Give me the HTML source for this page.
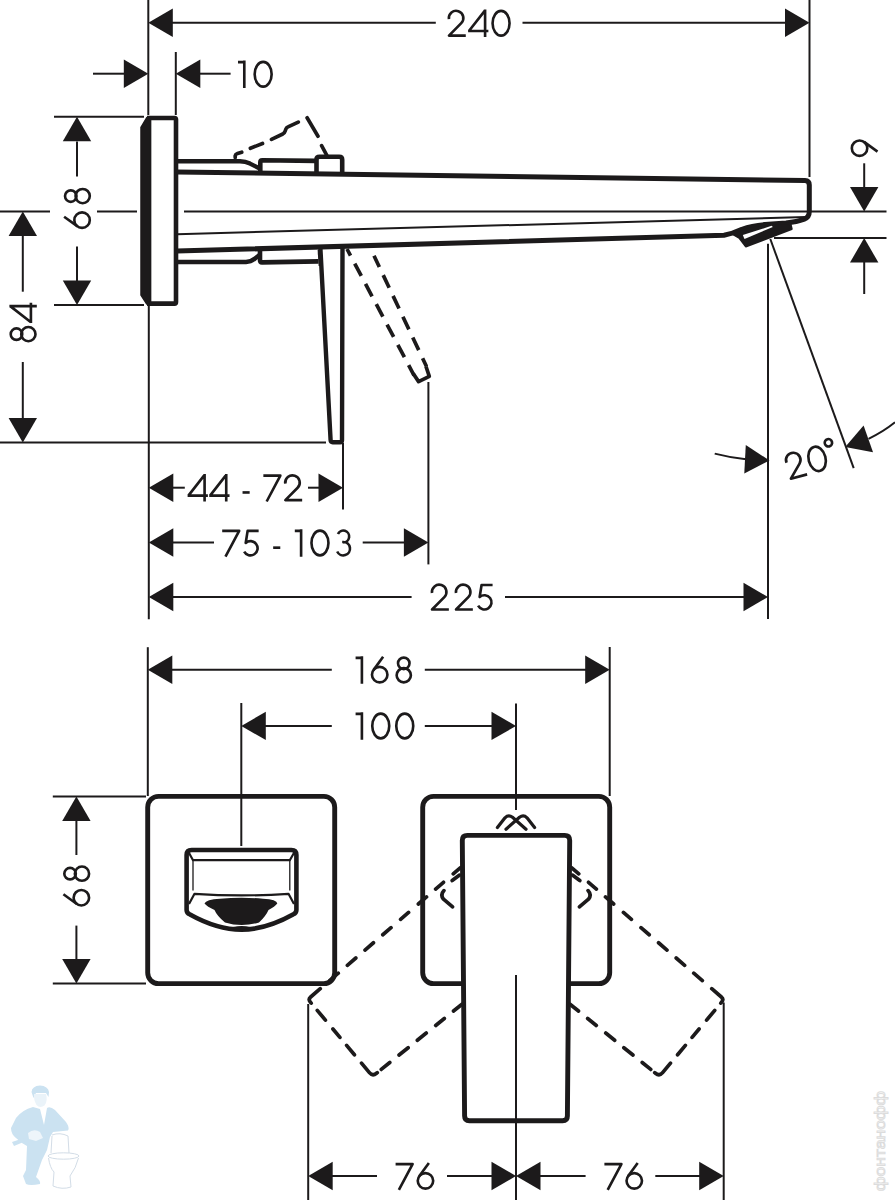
<!DOCTYPE html>
<html><head><meta charset="utf-8"><title>Dimension drawing</title>
<style>
html,body{margin:0;padding:0;background:#fff;font-family:"Liberation Sans",sans-serif;}
svg{display:block;}
</style></head>
<body>
<svg width="895" height="1200" viewBox="0 0 895 1200">
<rect width="895" height="1200" fill="#fff"/>
<path d="M148.3,0L148.3,115" stroke="#1c1a1b" stroke-width="2.0" fill="none"/>
<path d="M175.8,52L175.8,115" stroke="#1c1a1b" stroke-width="2.0" fill="none"/>
<path d="M809.5,0L809.5,177" stroke="#1c1a1b" stroke-width="2.0" fill="none"/>
<path d="M172,22.8L435.8,22.8" stroke="#1c1a1b" stroke-width="2.0" fill="none"/>
<path d="M522.5,22.8L786,22.8" stroke="#1c1a1b" stroke-width="2.0" fill="none"/>
<path d="M148.30,22.80L172.80,8.60L172.80,37.00z" fill="#1c1a1b"/>
<path d="M809.50,22.80L785.00,37.00L785.00,8.60z" fill="#1c1a1b"/>
<g transform="translate(479.20,23.20) rotate(0) scale(0.2740) translate(-115.60,-50)" fill="none" stroke="#1c1a1b" stroke-width="9.6" stroke-linejoin="round">
<path transform="translate(0.00,0)" d="M5.06,34.99A26.5,26.5 0 1 1 50.13,49.95L5.30,95.20L66.60,95.20"/>
<path transform="translate(75.10,0)" d="M62,0L62,100M62,3L3,78.5M0,78.5L74,78.5"/>
<path transform="translate(159.60,0)" d="M4.80,50.00a31,45.2 0 1 0 62,0a31,45.2 0 1 0 -62,0z"/>
</g>
<path d="M93,73.7L125,73.7" stroke="#1c1a1b" stroke-width="2.0" fill="none"/>
<path d="M199.5,73.7L230.6,73.7" stroke="#1c1a1b" stroke-width="2.0" fill="none"/>
<path d="M148.30,73.70L123.80,87.90L123.80,59.50z" fill="#1c1a1b"/>
<path d="M175.80,73.70L200.30,59.50L200.30,87.90z" fill="#1c1a1b"/>
<g transform="translate(255.48,74.20) rotate(0) scale(0.2740) translate(-63.80,-50)" fill="none" stroke="#1c1a1b" stroke-width="9.6" stroke-linejoin="round">
<path transform="translate(0.00,0)" d="M0,5.80 L23,5.80 M23,0 L23,100"/>
<path transform="translate(56.00,0)" d="M4.80,50.00a31,45.2 0 1 0 62,0a31,45.2 0 1 0 -62,0z"/>
</g>
<path d="M54,116.8L144,116.8" stroke="#1c1a1b" stroke-width="2.0" fill="none"/>
<path d="M54,305L144,305" stroke="#1c1a1b" stroke-width="2.0" fill="none"/>
<path d="M77,141.6L77,176.4" stroke="#1c1a1b" stroke-width="2.0" fill="none"/>
<path d="M77,246.5L77,281.4" stroke="#1c1a1b" stroke-width="2.0" fill="none"/>
<path d="M77.00,116.80L91.20,141.30L62.80,141.30z" fill="#1c1a1b"/>
<path d="M77.00,305.00L62.80,280.50L91.20,280.50z" fill="#1c1a1b"/>
<g transform="translate(77.40,208.40) rotate(-90) scale(0.2740) translate(-75.80,-50)" fill="none" stroke="#1c1a1b" stroke-width="9.6" stroke-linejoin="round">
<path transform="translate(0.00,0)" d="M4.80,67.00a28.2,28.2 0 1 0 56.4,0a28.2,28.2 0 1 0 -56.4,0z"/>
<path transform="translate(0.00,0)" d="M45.50,1.50L10.13,50.50"/>
<path transform="translate(90.00,0)" d="M9.80,25.80a21.0,21.0 0 1 0 42.0,0a21.0,21.0 0 1 0 -42.0,0z"/>
<path transform="translate(90.00,0)" d="M4.80,69.20a26.0,26.0 0 1 0 52.0,0a26.0,26.0 0 1 0 -52.0,0z"/>
</g>
<path d="M0,211.4L50,211.4" stroke="#1c1a1b" stroke-width="2.0" fill="none"/>
<path d="M97,211.4L137,211.4" stroke="#1c1a1b" stroke-width="2.0" fill="none"/>
<path d="M184,211.4L886.5,211.4" stroke="#1c1a1b" stroke-width="2.0" fill="none"/>
<path d="M22.8,234.8L22.8,291.7" stroke="#1c1a1b" stroke-width="2.0" fill="none"/>
<path d="M22.8,362L22.8,419" stroke="#1c1a1b" stroke-width="2.0" fill="none"/>
<path d="M22.80,211.40L37.00,235.90L8.60,235.90z" fill="#1c1a1b"/>
<path d="M22.80,442.60L8.60,418.10L37.00,418.10z" fill="#1c1a1b"/>
<g transform="translate(23.10,322.70) rotate(-90) scale(0.2740) translate(-72.55,-50)" fill="none" stroke="#1c1a1b" stroke-width="9.6" stroke-linejoin="round">
<path transform="translate(0.00,0)" d="M9.80,25.80a21.0,21.0 0 1 0 42.0,0a21.0,21.0 0 1 0 -42.0,0z"/>
<path transform="translate(0.00,0)" d="M4.80,69.20a26.0,26.0 0 1 0 52.0,0a26.0,26.0 0 1 0 -52.0,0z"/>
<path transform="translate(71.10,0)" d="M62,0L62,100M62,3L3,78.5M0,78.5L74,78.5"/>
</g>
<path d="M0,442.6L326,442.6" stroke="#1c1a1b" stroke-width="2.0" fill="none"/>
<path d="M148.8,306L148.8,619.3" stroke="#1c1a1b" stroke-width="2.0" fill="none"/>
<path d="M864.2,163.3L864.2,188" stroke="#1c1a1b" stroke-width="2.0" fill="none"/>
<path d="M864.2,261.6L864.2,294" stroke="#1c1a1b" stroke-width="2.0" fill="none"/>
<path d="M864.20,211.40L850.00,186.90L878.40,186.90z" fill="#1c1a1b"/>
<path d="M864.20,238.00L878.40,262.50L850.00,262.50z" fill="#1c1a1b"/>
<path d="M774,238L886.5,238" stroke="#1c1a1b" stroke-width="2.0" fill="none"/>
<g transform="translate(864.20,148.20) rotate(-90) scale(0.2740) translate(-33.00,-50)" fill="none" stroke="#1c1a1b" stroke-width="9.6" stroke-linejoin="round">
<path transform="translate(0.00,0)" d="M4.80,33.00a28.2,28.2 0 1 0 56.4,0a28.2,28.2 0 1 0 -56.4,0z"/>
<path transform="translate(0.00,0)" d="M20.50,98.50L55.87,49.50"/>
</g>
<path d="M768,243.8L768,619" stroke="#1c1a1b" stroke-width="2.0" fill="none"/>
<path d="M770.3,239L853.7,468.2" stroke="#1c1a1b" stroke-width="2.0" fill="none"/>
<path d="M343,443L343,509.6" stroke="#1c1a1b" stroke-width="2.0" fill="none"/>
<path d="M172,487.7L184.8,487.7" stroke="#1c1a1b" stroke-width="2.0" fill="none"/>
<path d="M308,487.7L319.5,487.7" stroke="#1c1a1b" stroke-width="2.0" fill="none"/>
<path d="M148.80,487.70L173.30,473.50L173.30,501.90z" fill="#1c1a1b"/>
<path d="M343.00,487.70L318.50,501.90L318.50,473.50z" fill="#1c1a1b"/>
<g transform="translate(244.88,487.80) rotate(0) scale(0.2740) translate(-209.05,-50)" fill="none" stroke="#1c1a1b" stroke-width="9.6" stroke-linejoin="round">
<path transform="translate(0.00,0)" d="M62,0L62,100M62,3L3,78.5M0,78.5L74,78.5"/>
<path transform="translate(79.00,0)" d="M62,0L62,100M62,3L3,78.5M0,78.5L74,78.5"/>
<path transform="translate(200.50,0)" d="M0,67L26,67"/>
<path transform="translate(276.50,0)" d="M0,5.80L62,5.80L12,100"/>
<path transform="translate(351.50,0)" d="M5.06,34.99A26.5,26.5 0 1 1 50.13,49.95L5.30,95.20L66.60,95.20"/>
</g>
<path d="M428.4,382L428.4,564.4" stroke="#1c1a1b" stroke-width="2.0" fill="none"/>
<path d="M172,542.5L214,542.5" stroke="#1c1a1b" stroke-width="2.0" fill="none"/>
<path d="M362.7,542.5L404.8,542.5" stroke="#1c1a1b" stroke-width="2.0" fill="none"/>
<path d="M148.80,542.50L173.30,528.30L173.30,556.70z" fill="#1c1a1b"/>
<path d="M428.40,542.50L403.90,556.70L403.90,528.30z" fill="#1c1a1b"/>
<g transform="translate(286.75,543.00) rotate(0) scale(0.2740) translate(-235.60,-50)" fill="none" stroke="#1c1a1b" stroke-width="9.6" stroke-linejoin="round">
<path transform="translate(0.00,0)" d="M0,5.80L62,5.80L12,100"/>
<path transform="translate(76.00,0)" d="M57,5.80L16.80,5.80L9.80,49.88A26.0,26.0 0 1 1 4.24,81.41"/>
<path transform="translate(186.00,0)" d="M0,67L26,67"/>
<path transform="translate(265.00,0)" d="M0,5.80 L23,5.80 M23,0 L23,100"/>
<path transform="translate(321.00,0)" d="M4.80,50.00a31,45.2 0 1 0 62,0a31,45.2 0 1 0 -62,0z"/>
<path transform="translate(414.60,0)" d="M7.81,17.21A21.5,21.5 0 1 1 27.30,47.80M23.30,46.20L27.30,46.20A24.5,24.5 0 1 1 5.10,81.05"/>
</g>
<path d="M172,597L411.6,597" stroke="#1c1a1b" stroke-width="2.0" fill="none"/>
<path d="M505,597L745,597" stroke="#1c1a1b" stroke-width="2.0" fill="none"/>
<path d="M148.80,597.00L173.30,582.80L173.30,611.20z" fill="#1c1a1b"/>
<path d="M768.00,597.00L743.50,611.20L743.50,582.80z" fill="#1c1a1b"/>
<g transform="translate(460.22,597.10) rotate(0) scale(0.2740) translate(-108.10,-50)" fill="none" stroke="#1c1a1b" stroke-width="9.6" stroke-linejoin="round">
<path transform="translate(0.00,0)" d="M5.06,34.99A26.5,26.5 0 1 1 50.13,49.95L5.30,95.20L66.60,95.20"/>
<path transform="translate(87.60,0)" d="M5.06,34.99A26.5,26.5 0 1 1 50.13,49.95L5.30,95.20L66.60,95.20"/>
<path transform="translate(169.20,0)" d="M57,5.80L16.80,5.80L9.80,49.88A26.0,26.0 0 1 1 4.24,81.41"/>
</g>
<path d="M769.50,460.50L744.29,473.40L745.78,445.04z" fill="#1c1a1b"/>
<path d="M714.7,453.6Q730,457.5 746,459.3" stroke="#1c1a1b" stroke-width="2.0" fill="none" stroke-linejoin="round" />
<path d="M845.20,447.00L863.59,425.47L873.03,452.26z" fill="#1c1a1b"/>
<path d="M868.5,438.8Q883,432 895,422.3" stroke="#1c1a1b" stroke-width="2.0" fill="none" stroke-linejoin="round" />
<g transform="translate(811.40,460.40) rotate(-15) scale(0.2740) translate(-94.90,-50)" fill="none" stroke="#1c1a1b" stroke-width="9.6" stroke-linejoin="round">
<path transform="translate(0.00,0)" d="M5.06,34.99A26.5,26.5 0 1 1 50.13,49.95L5.30,95.20L66.60,95.20"/>
<path transform="translate(80.60,0)" d="M4.80,50.00a31,45.2 0 1 0 62,0a31,45.2 0 1 0 -62,0z"/>
<path transform="translate(153.20,0)" d="M4.80,4.00a13.5,13.5 0 1 0 27.0,0a13.5,13.5 0 1 0 -27.0,0z"/>
</g>
<path d="M141,127.5L146.8,117.6L150.6,117.6L150.6,304L146.8,304L141,295z" fill="#1c1a1b" stroke="#1c1a1b" stroke-width="1.5" stroke-linejoin="round"/>
<path d="M147,118L174.5,118Q176,118 176,119.5L176,302Q176,303.6 174.5,303.6L147,303.6" stroke="#1c1a1b" stroke-width="4.6" fill="none" stroke-linejoin="round" />
<path d="M177,171.9L805,180.6Q809.3,180.8 809.3,185L809.3,211.5Q809.3,217.2 804.3,219.1Q797,221.8 786,223L765,224.6Q752,225.6 742,229.3Q733,233.6 724,235.3L177,251.1" stroke="#1c1a1b" stroke-width="5.0" fill="none" stroke-linejoin="round" />
<path d="M177,234.2L806,217" stroke="#1c1a1b" stroke-width="2.0" fill="none" stroke-linejoin="round" />
<path d="M732,233.6L740.1,230.1L750.1,226.6L765.2,224.6L785.3,223.1L790.6,224.3L791.7,229L745.8,246.5L739.3,238z" fill="#1c1a1b" stroke="#1c1a1b" stroke-width="2" stroke-linejoin="round"/>
<path d="M742.8,235.1L744.5,239L772.8,226.9L771.6,225.8z" fill="#fff"/>
<path d="M177,161.3L240,161.3Q245.5,161.5 250,163.6L259.2,168.2" stroke="#1c1a1b" stroke-width="4.4" fill="none" stroke-linejoin="round" />
<path d="M260.3,171.6L260.3,162.3Q260.3,160.3 262.3,160.3L315.5,160.9" stroke="#1c1a1b" stroke-width="4.6" fill="none" stroke-linejoin="round" />
<path d="M316.5,172L316.5,159.6Q316.5,156.8 319.5,156.8L339.2,156.8Q342.2,156.8 342.2,159.8L342.2,173" stroke="#1c1a1b" stroke-width="4.6" fill="none" stroke-linejoin="round" />
<path d="M177,262L246,262Q251,261.8 255,258.5L259.5,255" stroke="#1c1a1b" stroke-width="4.4" fill="none" stroke-linejoin="round" />
<path d="M260,250.5L260,260Q260,262.4 262,262.4L318.5,261.4" stroke="#1c1a1b" stroke-width="4.6" fill="none" stroke-linejoin="round" />
<path d="M318.6,250L319.6,266" stroke="#1c1a1b" stroke-width="2" fill="none" stroke-linejoin="round" />
<path d="M320.4,248.5L330.6,440.2Q330.7,442.2 332.7,442.2L340.2,442.2Q342,442.2 342,440.2L342.5,248" stroke="#1c1a1b" stroke-width="4.4" fill="none" stroke-linejoin="round" />
<path d="M235.2,157.5L235.2,155.8Q235.4,154.3 237.5,153.6L241.7,152.2 M250.4,148.3L262.5,143.5 M271.5,139.4L282.8,134Q284.6,133 285.2,131L285.9,129Q286.4,127.6 288,126.9L298.3,122.1 M307.1,117.8L318,136.2 M321.6,145.7L326.7,155.1" stroke="#1c1a1b" stroke-width="3.7" fill="none" stroke-linejoin="round" stroke-linecap="round"/>
<path d="M347,249L414,375.3" stroke="#1c1a1b" stroke-width="3.7" fill="none" stroke-linejoin="round" stroke-dasharray="14 9" stroke-dashoffset="6.5"/>
<path d="M374,255.7L426.5,366.5" stroke="#1c1a1b" stroke-width="3.7" fill="none" stroke-linejoin="round" stroke-dasharray="14 9" stroke-dashoffset="1.5"/>
<path d="M413.2,373.5L418.6,381.6L429.3,376.4L426,366.5" stroke="#1c1a1b" stroke-width="3.7" fill="none" stroke-linejoin="round" />
<path d="M147.8,647.2L147.8,796" stroke="#1c1a1b" stroke-width="2.0" fill="none"/>
<path d="M609.7,647L609.7,796" stroke="#1c1a1b" stroke-width="2.0" fill="none"/>
<path d="M171.5,669.8L331.8,669.8" stroke="#1c1a1b" stroke-width="2.0" fill="none"/>
<path d="M424.8,669.8L586,669.8" stroke="#1c1a1b" stroke-width="2.0" fill="none"/>
<path d="M147.80,669.80L172.30,655.60L172.30,684.00z" fill="#1c1a1b"/>
<path d="M609.70,669.80L585.20,684.00L585.20,655.60z" fill="#1c1a1b"/>
<g transform="translate(383.90,670.00) rotate(0) scale(0.2740) translate(-103.30,-50)" fill="none" stroke="#1c1a1b" stroke-width="9.6" stroke-linejoin="round">
<path transform="translate(0.00,0)" d="M0,5.80 L23,5.80 M23,0 L23,100"/>
<path transform="translate(55.00,0)" d="M4.80,67.00a28.2,28.2 0 1 0 56.4,0a28.2,28.2 0 1 0 -56.4,0z"/>
<path transform="translate(55.00,0)" d="M45.50,1.50L10.13,50.50"/>
<path transform="translate(145.00,0)" d="M9.80,25.80a21.0,21.0 0 1 0 42.0,0a21.0,21.0 0 1 0 -42.0,0z"/>
<path transform="translate(145.00,0)" d="M4.80,69.20a26.0,26.0 0 1 0 52.0,0a26.0,26.0 0 1 0 -52.0,0z"/>
</g>
<path d="M241.3,703L241.3,846" stroke="#1c1a1b" stroke-width="2.0" fill="none"/>
<path d="M516,703.5L516,810" stroke="#1c1a1b" stroke-width="2.0" fill="none"/>
<path d="M264.5,725.9L331.8,725.9" stroke="#1c1a1b" stroke-width="2.0" fill="none"/>
<path d="M424.8,725.9L493.2,725.9" stroke="#1c1a1b" stroke-width="2.0" fill="none"/>
<path d="M241.30,725.90L265.80,711.70L265.80,740.10z" fill="#1c1a1b"/>
<path d="M516.00,725.90L491.50,740.10L491.50,711.70z" fill="#1c1a1b"/>
<g transform="translate(385.08,726.00) rotate(0) scale(0.2740) translate(-107.60,-50)" fill="none" stroke="#1c1a1b" stroke-width="9.6" stroke-linejoin="round">
<path transform="translate(0.00,0)" d="M0,5.80 L23,5.80 M23,0 L23,100"/>
<path transform="translate(56.00,0)" d="M4.80,50.00a31,45.2 0 1 0 62,0a31,45.2 0 1 0 -62,0z"/>
<path transform="translate(143.60,0)" d="M4.80,50.00a31,45.2 0 1 0 62,0a31,45.2 0 1 0 -62,0z"/>
</g>
<path d="M52.8,796.4L146,796.4" stroke="#1c1a1b" stroke-width="2.0" fill="none"/>
<path d="M52.8,983.6L146,983.6" stroke="#1c1a1b" stroke-width="2.0" fill="none"/>
<path d="M76.4,820L76.4,855" stroke="#1c1a1b" stroke-width="2.0" fill="none"/>
<path d="M76.4,925.6L76.4,960.3" stroke="#1c1a1b" stroke-width="2.0" fill="none"/>
<path d="M76.40,796.40L90.60,820.90L62.20,820.90z" fill="#1c1a1b"/>
<path d="M76.40,983.60L62.20,959.10L90.60,959.10z" fill="#1c1a1b"/>
<g transform="translate(76.70,886.00) rotate(-90) scale(0.2740) translate(-75.80,-50)" fill="none" stroke="#1c1a1b" stroke-width="9.6" stroke-linejoin="round">
<path transform="translate(0.00,0)" d="M4.80,67.00a28.2,28.2 0 1 0 56.4,0a28.2,28.2 0 1 0 -56.4,0z"/>
<path transform="translate(0.00,0)" d="M45.50,1.50L10.13,50.50"/>
<path transform="translate(90.00,0)" d="M9.80,25.80a21.0,21.0 0 1 0 42.0,0a21.0,21.0 0 1 0 -42.0,0z"/>
<path transform="translate(90.00,0)" d="M4.80,69.20a26.0,26.0 0 1 0 52.0,0a26.0,26.0 0 1 0 -52.0,0z"/>
</g>
<path d="M308.2,1004L308.2,1200" stroke="#1c1a1b" stroke-width="2.0" fill="none"/>
<path d="M723.7,1002.5L723.7,1200" stroke="#1c1a1b" stroke-width="2.0" fill="none"/>
<path d="M516,975L516,1200" stroke="#1c1a1b" stroke-width="2.0" fill="none"/>
<path d="M331.5,1176L377,1176" stroke="#1c1a1b" stroke-width="2.0" fill="none"/>
<path d="M447,1176L493.5,1176" stroke="#1c1a1b" stroke-width="2.0" fill="none"/>
<path d="M539,1176L585.6,1176" stroke="#1c1a1b" stroke-width="2.0" fill="none"/>
<path d="M655.3,1176L700.3,1176" stroke="#1c1a1b" stroke-width="2.0" fill="none"/>
<path d="M308.20,1176.00L332.70,1161.80L332.70,1190.20z" fill="#1c1a1b"/>
<path d="M516.00,1176.00L491.50,1190.20L491.50,1161.80z" fill="#1c1a1b"/>
<path d="M516.00,1176.00L540.50,1161.80L540.50,1190.20z" fill="#1c1a1b"/>
<path d="M723.70,1176.00L699.20,1190.20L699.20,1161.80z" fill="#1c1a1b"/>
<g transform="translate(415.05,1176.20) rotate(0) scale(0.2740) translate(-71.00,-50)" fill="none" stroke="#1c1a1b" stroke-width="9.6" stroke-linejoin="round">
<path transform="translate(0.00,0)" d="M0,5.80L62,5.80L12,100"/>
<path transform="translate(76.00,0)" d="M4.80,67.00a28.2,28.2 0 1 0 56.4,0a28.2,28.2 0 1 0 -56.4,0z"/>
<path transform="translate(76.00,0)" d="M45.50,1.50L10.13,50.50"/>
</g>
<g transform="translate(623.85,1176.20) rotate(0) scale(0.2740) translate(-71.00,-50)" fill="none" stroke="#1c1a1b" stroke-width="9.6" stroke-linejoin="round">
<path transform="translate(0.00,0)" d="M0,5.80L62,5.80L12,100"/>
<path transform="translate(76.00,0)" d="M4.80,67.00a28.2,28.2 0 1 0 56.4,0a28.2,28.2 0 1 0 -56.4,0z"/>
<path transform="translate(76.00,0)" d="M45.50,1.50L10.13,50.50"/>
</g>
<rect x="147.7" y="796.4" width="187.0" height="187.20000000000005" rx="10.8" ry="10.8" fill="none" stroke="#1c1a1b" stroke-width="4.9"/>
<rect x="422.7" y="796.4" width="187.00000000000006" height="187.20000000000005" rx="10.8" ry="10.8" fill="none" stroke="#1c1a1b" stroke-width="4.9"/>
<path d="M462.3,840.4L464.6,1116Q464.6,1120.8 469.4,1120.8L562.6,1120.8Q567.4,1120.8 567.4,1116L569.7,840.4Q569.7,835.4 564.7,835.4L467.3,835.4Q462.3,835.4 462.3,840.4z" fill="#fff" stroke="#1c1a1b" stroke-width="4.9" stroke-linejoin="round"/>
<path d="M516,975L516,1200" stroke="#1c1a1b" stroke-width="2.0" fill="none"/>
<path d="M497.4,827.6L505,817.8Q508.5,814.3 512.5,817.3L526,829.2" stroke="#1c1a1b" stroke-width="3.2" fill="none" stroke-linejoin="round" stroke-linecap="round"/>
<path d="M534.6,827.6L527,817.8Q523.5,814.3 519.5,817.3L506,829.2" stroke="#1c1a1b" stroke-width="3.2" fill="none" stroke-linejoin="round" stroke-linecap="round"/>
<path d="M186.6,855Q186.6,850 191.6,850L291.4,850Q296.4,850 296.4,855L296.4,910Q296.4,913 293,914.5Q266,929.6 241.5,929.6Q217,929.6 190,914.5Q186.6,913 186.6,910z" stroke="#1c1a1b" stroke-width="4.6" fill="none" stroke-linejoin="round" />
<path d="M188.5,852L193,860.2L289.8,860.2L294.5,852" stroke="#1c1a1b" stroke-width="2.2" fill="none" stroke-linejoin="round" />
<path d="M193,860.2L193,890.5M289.8,860.2L289.8,890.5" stroke="#1c1a1b" stroke-width="1.3" fill="none" stroke-linejoin="round" />
<path d="M189,904L194.5,893.8Q241.5,897 288.5,893.8L294,904" stroke="#1c1a1b" stroke-width="2.2" fill="none" stroke-linejoin="round" />
<path d="M204.5,903.5Q206,899.5 220,898.8Q241.5,896.5 263,898.8Q277,899.5 277.3,903.5Q275,906.5 268.5,910Q266,916 259,922.5Q241.5,927.5 225,922.5Q217,916 214.5,910Q207,906.5 204.5,903.5z" fill="#1c1a1b"/>
<path d="M233,927Q241.5,925 250.5,927L250,930L233.5,930z" fill="#1c1a1b"/>
<path d="M460.50,867.60L453.23,873.87M443.47,882.31L435.60,889.10M426.52,896.95L418.34,904.01M408.58,912.44L400.56,919.37M391.02,927.60L382.77,934.73M373.46,942.76L364.99,950.09M355.83,957.99L347.35,965.31M338.27,973.16L329.64,980.61M320.26,988.71L310.65,997.01Q308.00,999.30 310.25,1001.98L311.21,1003.13M317.25,1010.34L325.40,1020.07M332.92,1029.04L339.92,1037.40M346.60,1045.37L354.43,1054.72M361.50,1063.15L369.39,1072.57Q372.60,1076.40 376.49,1073.26L377.27,1072.63M381.24,1069.43L389.79,1062.51M399.05,1055.04L408.15,1047.69M417.33,1040.27L426.28,1033.05M435.69,1025.45L444.33,1018.47M453.51,1011.06L461.99,1004.21" stroke="#1c1a1b" stroke-width="3.7" fill="none" stroke-linejoin="round" stroke-linecap="round"/>
<path d="M571.50,867.60L578.77,873.87M588.53,882.31L596.40,889.10M605.48,896.95L613.66,904.01M623.42,912.44L631.44,919.37M640.98,927.60L649.23,934.73M658.54,942.76L667.01,950.09M676.17,957.99L684.65,965.31M693.73,973.16L702.36,980.61M711.74,988.71L721.35,997.01Q724.00,999.30 721.75,1001.98L720.79,1003.13M714.75,1010.34L706.60,1020.07M699.08,1029.04L692.08,1037.40M685.40,1045.37L677.57,1054.72M670.50,1063.15L662.61,1072.57Q659.40,1076.40 655.51,1073.26L654.73,1072.63M650.76,1069.43L642.21,1062.51M632.95,1055.04L623.85,1047.69M614.67,1040.27L605.72,1033.05M596.31,1025.45L587.67,1018.47M578.49,1011.06L570.01,1004.21" stroke="#1c1a1b" stroke-width="3.7" fill="none" stroke-linejoin="round" stroke-linecap="round"/>
<path d="M452.2,880.6L459.6,875.1M579.8,880.6L572.4,875.1" stroke="#1c1a1b" stroke-width="3.7" fill="none" stroke-linejoin="round" stroke-linecap="round"/>
<path d="M444,890.6Q440,895 443.5,899.2L452.6,906.8" stroke="#1c1a1b" stroke-width="3.7" fill="none" stroke-linejoin="round" stroke-linecap="round"/>
<path d="M588,890.6Q592,895 588.5,899.2L579.4,906.8" stroke="#1c1a1b" stroke-width="3.7" fill="none" stroke-linejoin="round" stroke-linecap="round"/>
<g fill="#cbe2f1" stroke="none">
<path d="M31.5,1092Q32,1086 40,1085.5Q48,1086 49,1092L48.5,1097L46,1093L36,1093L33.5,1098z"/>
<path d="M34,1094L46,1094Q48,1101 44.5,1105.5Q40,1108.5 36.5,1105Q33.5,1100 34,1094z" fill="#eaf3f9"/>
<path d="M33,1107Q22,1110 16,1118L11,1128Q11,1134 16,1138L22,1143L27,1146L26,1170L23,1176L26,1184Q30,1186 40,1184Q41,1181 36,1177L42,1160L47,1150L50,1137L53,1132L68,1130.5Q70,1128 66,1122L55,1110Q50,1106 47,1108L44,1125L40,1109z"/>
<path d="M12,1142L24,1138L26,1141L14,1146z"/>
<path d="M28,1133Q34,1128 40,1132L43,1138L36,1141L29,1139z" fill="#eef5fa"/>
</g>
<g fill="none" stroke="#d3dde7" stroke-width="1">
<path d="M52,1135Q60,1132 68,1136L69,1153M52,1136L51,1153"/>
<ellipse cx="63.5" cy="1156" rx="15.5" ry="3.2"/>
<path d="M48.5,1158Q50,1168 54,1172L53,1186Q62,1190 71,1187L70,1176Q76,1168 78.5,1158"/>
</g>
<text transform="translate(884.5,1191) rotate(-90)" font-family="Liberation Sans, sans-serif" font-size="15" fill="#fff" stroke="#dcdcdc" stroke-width="0.9" textLength="100" lengthAdjust="spacingAndGlyphs">фонтанофф</text>
</svg>
</body></html>
